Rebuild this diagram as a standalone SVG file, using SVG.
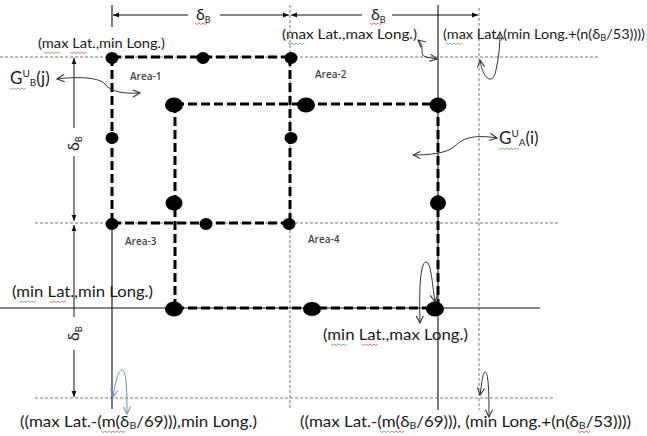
<svg xmlns="http://www.w3.org/2000/svg" width="647" height="436" viewBox="0 0 647 436">
  <style>
    .guide { stroke: #777; stroke-width: 1; stroke-dasharray: 3 2; fill: none; }
    .thin { stroke: #111; stroke-width: 1.1; fill: none; }
    .heavy { stroke: #000; stroke-width: 3; stroke-dasharray: 9 4; fill: none; }
    .dim { stroke: #111; stroke-width: 1; fill: none; }
    .pointer { stroke: #333; stroke-width: 1; fill: none; }
    .dot { fill: #000; }
    .lbl { font-family: Lato, "Open Sans", "Liberation Sans", sans-serif; fill: #1a1a1a; }
    .area { font-family: "Open Sans", "Liberation Sans", sans-serif; font-size: 10px; font-weight: 600; fill: #444; }
    .wavyG { stroke: #5a5; stroke-width: 0.8; fill: none; }
    .wavyR { stroke: #c55; stroke-width: 0.8; fill: none; }
  </style>
  <defs>
    <marker id="tri" viewBox="0 0 10 10" refX="10" refY="5" markerWidth="6" markerHeight="6" orient="auto-start-reverse" markerUnits="userSpaceOnUse">
      <path d="M0,1 L10,5 L0,9 Z" fill="#111"/>
    </marker>
    <marker id="vee" viewBox="0 0 10 10" refX="9" refY="5" markerWidth="9" markerHeight="9" orient="auto-start-reverse" markerUnits="userSpaceOnUse">
      <path d="M1,1 L9,5 L1,9" fill="none" stroke="#333" stroke-width="1.2"/>
    </marker>
    <marker id="veeBlue" viewBox="0 0 10 10" refX="9" refY="5" markerWidth="9" markerHeight="9" orient="auto-start-reverse" markerUnits="userSpaceOnUse">
      <path d="M1,1 L9,5 L1,9" fill="none" stroke="#6f93c2" stroke-width="1.2"/>
    </marker>
  </defs>

  <g id="connectors">
    <!-- grid guides -->
    <line class="guide" x1="0" y1="57" x2="600" y2="57"/>
    <line class="guide" x1="35" y1="223" x2="558" y2="223"/>
    <line class="guide" x1="35" y1="398" x2="553" y2="398"/>
    <line class="guide" x1="290" y1="5" x2="290" y2="410"/>
    <line class="guide" x1="479" y1="8" x2="479" y2="410"/>
    <!-- solid reference lines -->
    <line class="thin" x1="0" y1="308" x2="540" y2="308"/>
    <line class="thin" x1="112" y1="223" x2="112" y2="409"/>
    <line class="thin" x1="438" y1="5" x2="438" y2="410"/>
    <line class="thin" x1="112" y1="5" x2="112" y2="27"/>

    <!-- outer block B (areas 1-4) -->
    <path class="heavy" d="M112,57 H290 M112,57 V223 M290,57 V223 M112,223 H290"/>
    <!-- inner block A -->
    <path class="heavy" d="M175,104 H438 M175,104 V308 M438,104 V308 M175,308 H438"/>

    <!-- dimension lines -->
    <line class="dim" x1="188" y1="15" x2="113" y2="15" marker-end="url(#tri)"/>
    <line class="dim" x1="220" y1="15" x2="289" y2="15" marker-end="url(#tri)"/>
    <line class="dim" x1="362" y1="15" x2="291" y2="15" marker-end="url(#tri)"/>
    <line class="dim" x1="392" y1="15" x2="478" y2="15" marker-end="url(#tri)"/>
    <line class="dim" x1="74" y1="128" x2="74" y2="58" marker-end="url(#tri)"/>
    <line class="dim" x1="74" y1="156" x2="74" y2="221" marker-end="url(#tri)"/>
    <line class="dim" x1="74" y1="317" x2="74" y2="225" marker-end="url(#tri)"/>
    <line class="dim" x1="74" y1="350" x2="74" y2="397" marker-end="url(#tri)"/>

    <!-- label pointers -->
    <path class="pointer" d="M57,79 C80,76 100,78 105,84 C110,92 125,94 140,93" marker-start="url(#vee)" marker-end="url(#vee)"/>
    <path class="pointer" d="M497,138 C472,134 462,139 455,146 C448,153 430,155 413,155" marker-start="url(#vee)" marker-end="url(#vee)"/>
    <path class="pointer" d="M418,40 C426,47 418,55 426,57 L437,59" marker-start="url(#vee)" marker-end="url(#vee)"/>
    <path class="pointer" d="M480,60 C483,80 493,86 496,70 C499,56 500,45 500,32" marker-start="url(#vee)" marker-end="url(#vee)"/>
    <path class="pointer" d="M435,302 C432,282 431,262 426,262 C420,262 419,292 420,323" marker-start="url(#vee)" marker-end="url(#vee)"/>
    <path d="M113,397 C116,380 118,370 122,370 C127,370 127,396 127,414" fill="none" stroke="#6f93c2" stroke-width="1" marker-start="url(#veeBlue)" marker-end="url(#veeBlue)"/>
    <path class="pointer" d="M480,395 C482,381 483,372 485,372 C489,372 489,400 489,417" marker-start="url(#vee)" marker-end="url(#vee)"/>
  </g>

  <!-- grid points of block B -->
  <g id="blockB-points">
    <ellipse class="dot" cx="112" cy="58" rx="6.5" ry="6"/>
    <ellipse class="dot" cx="203" cy="58" rx="6.5" ry="6"/>
    <ellipse class="dot" cx="291" cy="58" rx="6.5" ry="6"/>
    <ellipse class="dot" cx="112" cy="138" rx="6.5" ry="6"/>
    <ellipse class="dot" cx="291" cy="138" rx="6.5" ry="6"/>
    <ellipse class="dot" cx="112" cy="224" rx="6.5" ry="6"/>
    <ellipse class="dot" cx="206" cy="224" rx="6.5" ry="6"/>
    <ellipse class="dot" cx="289" cy="224" rx="6.5" ry="6"/>
  </g>

  <!-- grid points of block A -->
  <g id="blockA-points">
    <ellipse class="dot" cx="174" cy="105" rx="9" ry="7.5"/>
    <ellipse class="dot" cx="306" cy="105" rx="9" ry="7.5"/>
    <ellipse class="dot" cx="438" cy="105" rx="8.5" ry="7.5"/>
    <ellipse class="dot" cx="174" cy="203" rx="8.5" ry="7.5"/>
    <ellipse class="dot" cx="438" cy="203" rx="8" ry="7.5"/>
    <ellipse class="dot" cx="174" cy="309" rx="9" ry="7.5"/>
    <ellipse class="dot" cx="312" cy="309" rx="9" ry="7"/>
    <ellipse class="dot" cx="435" cy="309" rx="9" ry="7.5"/>
  </g>

  <g id="area-labels">
    <text class="area" x="130" y="80">Area-1</text>
    <text class="area" x="315" y="78">Area-2</text>
    <text class="area" x="125" y="245">Area-3</text>
    <text class="area" x="308" y="243">Area-4</text>
  </g>

  <g id="dimension-labels" class="lbl" font-size="16">
    <text x="196" y="20">δ<tspan font-size="9" dy="3">B</tspan></text>
    <text x="371" y="20">δ<tspan font-size="9" dy="3">B</tspan></text>
    <text transform="translate(79,151) rotate(-90)">δ<tspan font-size="9" dy="3">B</tspan></text>
    <text transform="translate(79,341) rotate(-90)">δ<tspan font-size="9" dy="3">B</tspan></text>
  </g>

  <g id="group-labels" class="lbl" font-size="17">
    <text x="10" y="84">G<tspan font-size="10" dy="-7">U</tspan><tspan font-size="10" dy="9">B</tspan><tspan dy="-2">(j)</tspan></text>
    <text x="499" y="144">G<tspan font-size="10" dy="-7">U</tspan><tspan font-size="10" dy="9">A</tspan><tspan dy="-2">(i)</tspan></text>
  </g>

  <g id="corner-labels" class="lbl">
    <text x="38" y="48" font-size="14" textLength="127" lengthAdjust="spacingAndGlyphs">(max Lat.,min Long.)</text>
    <text x="282" y="39" font-size="14" textLength="135" lengthAdjust="spacingAndGlyphs">(max Lat.,max Long.)</text>
    <text x="443" y="39" font-size="14" textLength="202" lengthAdjust="spacingAndGlyphs">(max Lat.,(min Long.+(n(δ<tspan font-size="9" dy="2">B</tspan><tspan dy="-2">/53))))</tspan></text>
    <text x="12" y="297" font-size="15" textLength="141" lengthAdjust="spacingAndGlyphs">(min Lat.,min Long.)</text>
    <text x="323" y="340" font-size="15" textLength="145" lengthAdjust="spacingAndGlyphs">(min Lat.,max Long.)</text>
    <text x="20" y="427" font-size="16" textLength="237" lengthAdjust="spacingAndGlyphs">((max Lat.-(m(δ<tspan font-size="10" dy="2">B</tspan><tspan dy="-2">/69))),min Long.)</tspan></text>
    <text x="300" y="427" font-size="16" textLength="331" lengthAdjust="spacingAndGlyphs">((max Lat.-(m(δ<tspan font-size="10" dy="2">B</tspan><tspan dy="-2">/69))), (min Long.+(n(δ</tspan><tspan font-size="10" dy="2">B</tspan><tspan dy="-2">/53))))</tspan></text>
  </g>

  <!-- spell-check squiggles under words -->
  <g id="squiggles">
    <path class="wavyG" d="M44,52 l2,1.5 l2,-1.5 l2,1.5 l2,-1.5 l2,1.5 l2,-1.5 l2,1.5 l2,-1.5"/>
    <path class="wavyR" d="M70,52 l2,1.5 l2,-1.5 l2,1.5 l2,-1.5 l2,1.5 l2,-1.5 l2,1.5 l2,-1.5"/>
    <path class="wavyG" d="M288,43 l2,1.5 l2,-1.5 l2,1.5 l2,-1.5 l2,1.5 l2,-1.5 l2,1.5 l2,-1.5"/>
    <path class="wavyG" d="M446,43 l2,1.5 l2,-1.5 l2,1.5 l2,-1.5 l2,1.5 l2,-1.5 l2,1.5 l2,-1.5"/>
    <path class="wavyR" d="M195,23 l2,1.5 l2,-1.5 l2,1.5 l2,-1.5 l2,1.5 l2,-1.5"/>
    <path class="wavyR" d="M370,23 l2,1.5 l2,-1.5 l2,1.5 l2,-1.5 l2,1.5 l2,-1.5"/>
    <path class="wavyG" d="M10,88 l2,1.5 l2,-1.5 l2,1.5 l2,-1.5 l2,1.5 l2,-1.5 l2,1.5 l2,-1.5"/>
    <path class="wavyG" d="M499,148 l2,1.5 l2,-1.5 l2,1.5 l2,-1.5 l2,1.5 l2,-1.5 l2,1.5 l2,-1.5 l2,1.5 l2,-1.5"/>
    <path class="wavyG" d="M20,301 l2,1.5 l2,-1.5 l2,1.5 l2,-1.5 l2,1.5 l2,-1.5 l2,1.5 l2,-1.5"/>
    <path class="wavyR" d="M50,301 l2,1.5 l2,-1.5 l2,1.5 l2,-1.5 l2,1.5 l2,-1.5 l2,1.5 l2,-1.5"/>
    <path class="wavyG" d="M331,344 l2,1.5 l2,-1.5 l2,1.5 l2,-1.5 l2,1.5 l2,-1.5 l2,1.5 l2,-1.5"/>
    <path class="wavyR" d="M362,344 l2,1.5 l2,-1.5 l2,1.5 l2,-1.5 l2,1.5 l2,-1.5 l2,1.5 l2,-1.5"/>
    <path class="wavyG" d="M101,431 l2,1.5 l2,-1.5 l2,1.5 l2,-1.5 l2,1.5 l2,-1.5"/>
    <path class="wavyR" d="M113,431 l2,1.5 l2,-1.5 l2,1.5 l2,-1.5 l2,1.5 l2,-1.5"/>
    <path class="wavyG" d="M380,431 l2,1.5 l2,-1.5 l2,1.5 l2,-1.5 l2,1.5 l2,-1.5"/>
    <path class="wavyR" d="M392,431 l2,1.5 l2,-1.5 l2,1.5 l2,-1.5 l2,1.5 l2,-1.5"/>
    <path class="wavyR" d="M578,431 l2,1.5 l2,-1.5 l2,1.5 l2,-1.5 l2,1.5 l2,-1.5"/>
  </g>
</svg>
